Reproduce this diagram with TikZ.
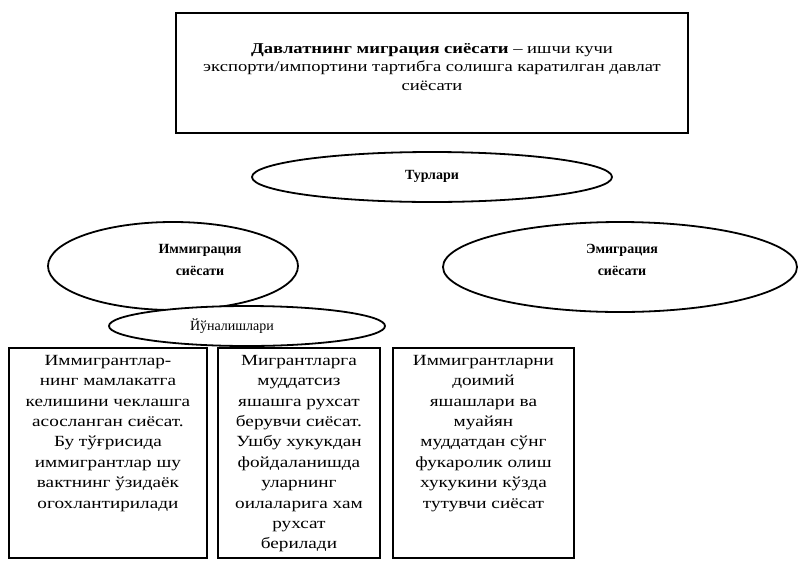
\documentclass[tikz,border=0pt]{standalone}
\usepackage{fontspec}
\setmainfont{Liberation Serif}
\newfontfamily\widefont[FakeStretch=1.24]{Liberation Serif}
\usetikzlibrary{shapes.geometric}
\begin{document}
\begin{tikzpicture}[x=1pt,y=-1pt,
  frame/.style={draw=black, line width=1.9pt},
  oval/.style={ellipse, draw=black, line width=1.8pt, fill=white, inner sep=0pt},
  boxtext/.style={align=center, anchor=north, font=\widefont\fontsize{15.5}{20.4}\selectfont, inner sep=0pt},
  ovaltext/.style={align=center, font=\fontsize{14}{22}\selectfont\bfseries, inner sep=0pt}]
\useasboundingbox (0,0) rectangle (805,560);
\fill[white] (0,0) rectangle (805,560);
% top box
\node[frame, minimum width=512pt, minimum height=120pt, inner sep=0pt] (top) at (432,73) {};
\node[align=center, font=\widefont\fontsize{15}{18.5}\selectfont, inner sep=0pt] (toptxt) at (432,67)
 {\textbf{Давлатнинг миграция сиёсати} – ишчи кучи\\экспорти/импортини тартибга солишга каратилган давлат\\сиёсати};
% Turlari
\node[oval, minimum width=360pt, minimum height=50pt] (tur) at (432,177) {};
\node[ovaltext] (turtxt) at (432,176) {Турлари};
% immigration / emigration
\node[oval, minimum width=250pt, minimum height=88pt] (imm) at (173,266) {};
\node[ovaltext] (immtxt) at (200,260) {Иммиграция\\сиёсати};
\node[oval, minimum width=354pt, minimum height=90pt] (emi) at (620,267) {};
\node[ovaltext] (emitxt) at (622,260) {Эмиграция\\сиёсати};
% directions
\node[oval, minimum width=276pt, minimum height=40pt] (yun) at (247,326) {};
\node[font=\fontsize{14}{16}\selectfont, inner sep=0pt] (yuntxt) at (232,326) {Йўналишлари};
% boxes
\node[frame, minimum width=198pt, minimum height=210pt, inner sep=0pt, anchor=north west] (b1) at (8,347) {};
\node[frame, minimum width=162pt, minimum height=210pt, inner sep=0pt, anchor=north west] (b2) at (217,347) {};
\node[frame, minimum width=181pt, minimum height=210pt, inner sep=0pt, anchor=north west] (b3) at (392,347) {};
\node[boxtext] (t1) at ([yshift=-8pt]b1.north)
 {Иммигрантлар-\\нинг мамлакатга\\келишини чеклашга\\асосланган сиёсат.\\Бу тўғрисида\\иммигрантлар шу\\вактнинг ўзидаёк\\огохлантирилади};
\node[boxtext] (t2) at ([yshift=-8pt]b2.north)
 {Мигрантларга\\муддатсиз\\яшашга рухсат\\берувчи сиёсат.\\Ушбу хукукдан\\фойдаланишда\\уларнинг\\оилаларига хам\\рухсат\\берилади};
\node[boxtext] (t3) at ([yshift=-8pt]b3.north)
 {Иммигрантларни\\доимий\\яшашлари ва\\муайян\\муддатдан сўнг\\фукаролик олиш\\хукукини кўзда\\тутувчи сиёсат};
\end{tikzpicture}
\end{document}
